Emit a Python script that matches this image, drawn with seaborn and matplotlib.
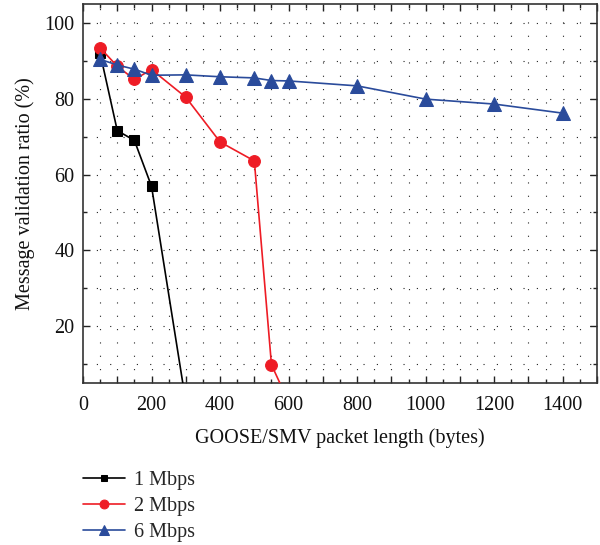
import matplotlib
matplotlib.use("Agg")
import matplotlib.pyplot as plt
from matplotlib.ticker import MultipleLocator, FuncFormatter
import seaborn as sns
import pandas as pd

# Data
x_1mbps = [50, 100, 150, 200, 300]
y_1mbps = [92.0, 71.6, 69.0, 56.9, 0.0]

x_2mbps = [50, 100, 150, 200, 300, 400, 500, 550, 600]
y_2mbps = [93.4, 88.6, 85.1, 87.7, 80.4, 68.6, 63.6, 9.8, 0.0]

x_6mbps = [50, 100, 150, 200, 300, 400, 500, 550, 600, 800, 1000, 1200, 1400]
y_6mbps = [90.4, 88.9, 87.8, 86.2, 86.3, 85.8, 85.5, 84.8, 84.7, 83.4, 79.9, 78.6, 76.2]

labels = ["1 Mbps", "2 Mbps", "6 Mbps"]

sns.set_theme(style="ticks")
plt.rcParams["font.family"] = ["Liberation Serif", "DejaVu Serif"]
FS = 14.5
plt.rcParams["font.size"] = FS

fig = plt.figure(figsize=(6.0, 5.45), dpi=100)
ax = fig.add_axes([83 / 600, 1 - 383 / 545, (597 - 83) / 600, (383 - 4) / 545])

series = [
    (x_1mbps, y_1mbps, labels[0], "#000000", "s", 6.5),
    (x_2mbps, y_2mbps, labels[1], "#ee1c25", "o", 8.5),
    (x_6mbps, y_6mbps, labels[2], "#2a4b9b", "^", 9.5),
]
for xs, ys, lab, col, mk, ms in series:
    df = pd.DataFrame({"x": xs, "y": ys})
    sns.lineplot(data=df, x="x", y="y", ax=ax, color=col, marker=mk,
                 markersize=ms, markeredgecolor=col, linewidth=1.2,
                 label=lab, legend=False, zorder=3)

ax.set_xlim(0, 1500)
ax.set_ylim(5, 105)

ax.xaxis.set_major_locator(MultipleLocator(100))
ax.xaxis.set_minor_locator(MultipleLocator(50))
ax.xaxis.set_major_formatter(FuncFormatter(lambda v, p: f"{int(v)}" if int(round(v)) % 200 == 0 else ""))
ax.yaxis.set_major_locator(MultipleLocator(20))
ax.yaxis.set_minor_locator(MultipleLocator(10))

ax.tick_params(which="both", direction="in", top=True, right=True,
               colors="#222222", labelcolor="#111111", labelsize=FS, width=1.0)
ax.tick_params(which="major", length=5)
ax.tick_params(which="minor", length=3)
ax.tick_params(axis="x", which="major", pad=9)
ax.tick_params(axis="y", which="major", pad=6)

for s in ax.spines.values():
    s.set_color("#333333")
    s.set_linewidth(1.2)

dot = (0, (1, 11))
ax.grid(False)
for xv in range(50, 1500, 50):
    ax.axvline(xv, color="#222222", lw=0.8, ls=dot, zorder=0)
for yv in range(10, 105, 10):
    ax.axhline(yv, color="#222222", lw=0.8, ls=dot, zorder=0)

ax.set_xlabel("GOOSE/SMV packet length (bytes)", fontsize=FS, color="#111111", labelpad=10)
ax.set_ylabel("Message validation ratio (%)", fontsize=FS, color="#111111", labelpad=7)

handles, labs = ax.get_legend_handles_labels()
fig.legend(handles, labs, loc="upper left", bbox_to_anchor=(83 / 600, 1 - 471 / 545),
           frameon=False, fontsize=FS, handlelength=2.1, handletextpad=0.45,
           labelspacing=0.33, borderpad=0, borderaxespad=0, markerscale=0.75)

fig.savefig("out.png", dpi=100)
